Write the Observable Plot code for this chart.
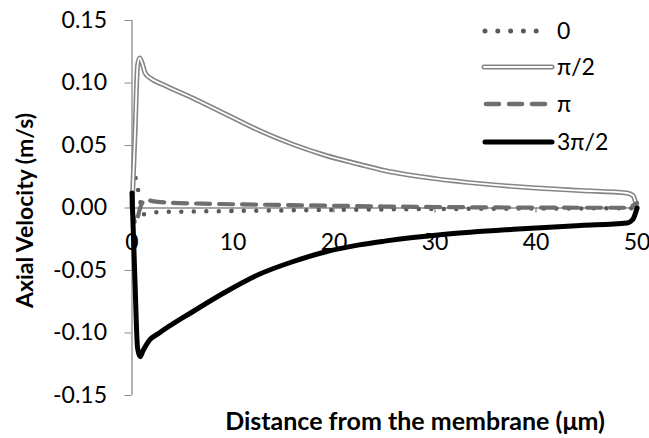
<!DOCTYPE html>
<html><head><meta charset="utf-8">
<script src="https://cdn.jsdelivr.net/npm/d3@7"></script>
<script src="https://cdn.jsdelivr.net/npm/@observablehq/plot@0.6"></script>
<style>
body{margin:0;background:#fff;}
#wrap{position:relative;width:649px;height:438px;font-family:Lato,"Open Sans",sans-serif;}
#legend{position:absolute;left:0;top:0;}
</style></head><body><div id="wrap"></div>
<script>
// Series names (phase)
const phases = ["0", "π/2", "π", "3π/2"];

// Phase 0 (dotted)
const xP0 = [0.15, 0.45, 0.7, 0.95, 1.2, 1.6, 3, 6, 10, 15, 20, 25, 30, 35, 40, 45, 49, 50];
const vP0 = [0.034, 0.02, 0.011, 0.0, -0.005, -0.0042, -0.0032, -0.0028, -0.0024, -0.0019, -0.0015, -0.0011, -0.0008, -0.0006, -0.0004, -0.0003, -0.0002, 0.0];

// Phase π/2 (double line)
const xP1 = [0, 0.3, 0.55, 0.75, 1.0, 1.3, 1.8, 3, 6, 9.3, 12.6, 15.9, 19.2, 22.5, 25, 30, 34.5, 40, 44.4, 49, 49.6, 50];
const vP1 = [0, 0.06, 0.114, 0.120, 0.116, 0.108, 0.104, 0.099, 0.088, 0.075, 0.062, 0.051, 0.042, 0.035, 0.030, 0.0235, 0.0195, 0.016, 0.014, 0.012, 0.010, 0.0];

// Phase π (dashed)
const xP2 = [0, 0.35, 0.55, 0.8, 1.1, 1.5, 2, 4, 7, 10, 15, 20, 25, 30, 35, 40, 45, 49, 49.6, 50];
const vP2 = [0, -0.012, -0.008, 0.0, 0.005, 0.0065, 0.0055, 0.0042, 0.0035, 0.003, 0.0024, 0.0018, 0.0012, 0.0008, 0.0005, 0.0003, 0.0002, 0.0002, 0.002, 0.004];

// Phase 3π/2 (thick black)
const xP3 = [0, 0.3, 0.55, 0.8, 1.1, 1.7, 2.7, 6, 9.3, 12.6, 15.9, 19.2, 22.5, 25, 31, 37.8, 44.4, 49, 49.6, 50];
const vP3 = [0.012, -0.06, -0.112, -0.119, -0.114, -0.106, -0.100, -0.083, -0.067, -0.053, -0.043, -0.035, -0.0295, -0.0265, -0.021, -0.017, -0.014, -0.012, -0.009, 0.0];

const xTicks = [0, 10, 20, 30, 40, 50];
const yTicks = [-0.15, -0.10, -0.05, 0.00, 0.05, 0.10, 0.15];
const xTitle = "Distance from the membrane (μm)";
const yTitle = "Axial Velocity (m/s)";

const toRows = (xs, vs) => xs.map((x, i) => ({x, v: vs[i]}));
const rows0 = toRows(xP0, vP0), rows1 = toRows(xP1, vP1), rows2 = toRows(xP2, vP2), rows3 = toRows(xP3, vP3);

const axisGray = "#8a8a8a";
const FONT = "Lato, 'Open Sans', sans-serif";
const fmt = d => (d < 0 ? "-" : "") + Math.abs(d).toFixed(2);

const chart = Plot.plot({
  width: 649, height: 438,
  marginLeft: 131.5, marginRight: 12.5, marginTop: 20, marginBottom: 43,
  x: {domain: [0, 50], axis: null},
  y: {domain: [-0.15, 0.15]},
  style: {fontFamily: FONT, fontSize: "23px", color: "#000", background: "#fff", overflow: "visible"},
  marks: [
    Plot.ruleX([0], {y1: -0.15, y2: 0.15, stroke: axisGray, strokeWidth: 1.3}),
    Plot.ruleY([0], {x1: 0, x2: 50, stroke: axisGray, strokeWidth: 1.3}),
    Plot.axisY({ticks: yTicks, tickSize: 7, tickPadding: 18, stroke: axisGray, tickFormat: fmt, fontSize: 23, label: null}),
    Plot.ruleX(xTicks, {x: d => d, y1: 0, y2: 0, insetBottom: -5, stroke: axisGray, strokeWidth: 1.3}),
    Plot.text(xTicks, {x: d => d, y: 0, text: d => String(d), dy: 35, fontSize: 23, fill: "#000"}),
    Plot.text([yTitle], {frameAnchor: "left", rotate: -90, textAnchor: "middle", lineAnchor: "middle", dx: -106.5, dy: 2.5, fontSize: 23, fontWeight: "bold", fill: "#000"}),
    Plot.text([xTitle], {frameAnchor: "bottom", textAnchor: "middle", lineAnchor: "middle", dx: 30.5, dy: 26, fontSize: 25, fontWeight: "bold", fill: "#000"}),
    // series 0 dotted
    Plot.line(rows0, {x: "x", y: "v", stroke: "#5a5a5a", strokeWidth: 4.5, strokeDasharray: "0,12.5", strokeLinecap: "round", curve: "monotone-x"}),
    // series π/2 double line
    Plot.line(rows1, {x: "x", y: "v", stroke: "#858585", strokeWidth: 5, curve: "monotone-x"}),
    Plot.line(rows1, {x: "x", y: "v", stroke: "#fff", strokeWidth: 1.8, curve: "monotone-x"}),
    // series π dashed
    Plot.line(rows2, {x: "x", y: "v", stroke: "#6e6e6e", strokeWidth: 4.2, strokeDasharray: "14,9", strokeLinecap: "round", curve: "monotone-x"}),
    // series 3π/2 thick black
    Plot.line(rows3, {x: "x", y: "v", stroke: "#000", strokeWidth: 5, strokeLinejoin: "round", curve: "monotone-x"})
  ]
});
const wrap = document.getElementById("wrap");
wrap.appendChild(chart);

// Legend overlay
const legY = [31, 67, 104, 142];
const lsvg = d3.select(wrap).append("svg").attr("id", "legend").attr("width", 649).attr("height", 170);
const g = lsvg.selectAll("g").data(phases).join("g").attr("transform", (d, i) => `translate(0,${legY[i]})`);
g.each(function(d, i) {
  const s = d3.select(this);
  if (i === 0) {
    s.append("line").attr("x1", 485).attr("x2", 549).attr("stroke", "#5a5a5a").attr("stroke-width", 5).attr("stroke-dasharray", "0,12.8").attr("stroke-linecap", "round");
  } else if (i === 1) {
    s.append("line").attr("x1", 484).attr("x2", 552).attr("stroke", "#858585").attr("stroke-width", 5).attr("stroke-linecap", "round");
    s.append("line").attr("x1", 484).attr("x2", 552).attr("stroke", "#fff").attr("stroke-width", 1.8).attr("stroke-linecap", "round");
  } else if (i === 2) {
    s.append("line").attr("x1", 486).attr("x2", 548).attr("stroke", "#6e6e6e").attr("stroke-width", 4.5).attr("stroke-dasharray", "13,10").attr("stroke-linecap", "round");
  } else {
    s.append("line").attr("x1", 485).attr("x2", 552).attr("stroke", "#000").attr("stroke-width", 5).attr("stroke-linecap", "round");
  }
  s.append("text").attr("x", 557).attr("dy", "0.35em").attr("font-size", 23).attr("font-family", FONT).attr("fill", "#000").text(d);
});
</script>
</body></html>
